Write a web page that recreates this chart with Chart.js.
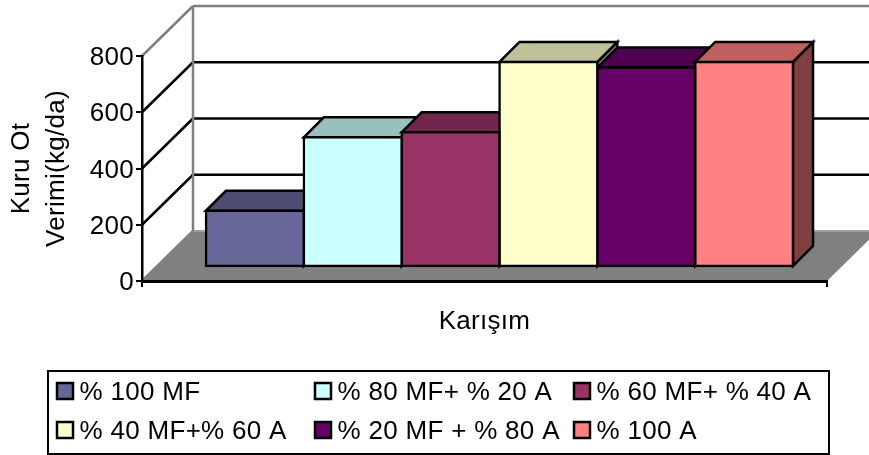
<!DOCTYPE html>
<html lang="en">
<head>
  <meta charset="UTF-8">
  <title>Kuru Ot Verimi</title>
  <style>
    body { margin: 0; background: white; }
    canvas { display: block; }
  </style>
</head>
<body>
  <canvas id="yieldChart" width="869" height="455"></canvas>

  <script src="https://cdn.jsdelivr.net/npm/chart.js"></script>
  <script>
    // Data
    const categories = [''];
    const seriesNames = ['% 100 MF', '% 80 MF+ % 20 A', '% 60 MF+ % 40 A', '% 40 MF+% 60 A', '% 20 MF + % 80 A', '% 100 A'];
    const seriesValues = [200, 461, 479, 729, 709, 729];
    const seriesColors = ['#666699', '#CCFFFF', '#993366', '#FFFFCC', '#660066', '#FF8080'];
    const yTicks = [0, 200, 400, 600, 800];

    const FONT = { family: '"Liberation Sans", Arial, sans-serif', size: 26 };
    const SPACING = '0.3px';
    const LINE = 2.5;

    // 3D box offsets, px
    const WALL_DX = 51, WALL_DY = -50;
    const BAR_DX = 15, BAR_DY = -14;
    const BAR_DEPTH = 20;

    function shade(hex, f) {
      const n = parseInt(hex.slice(1), 16);
      const c = [n >> 16, (n >> 8) & 255, n & 255].map(v => Math.round(v * f));
      return `rgb(${c[0]},${c[1]},${c[2]})`;
    }

    function poly(ctx, pts, fill, stroke, width) {
      ctx.beginPath();
      pts.forEach((p, i) => i ? ctx.lineTo(p[0], p[1]) : ctx.moveTo(p[0], p[1]));
      if (fill) {
        ctx.closePath();
        ctx.fillStyle = fill;
        ctx.fill();
      }
      if (stroke) {
        ctx.strokeStyle = stroke;
        ctx.lineWidth = width;
        ctx.stroke();
      }
    }

    // Floor, back wall and side wall, behind everything else
    const wallsPlugin = {
      id: 'walls',
      beforeDraw(chart) {
        const ctx = chart.ctx;
        const { left, right, top, bottom } = chart.chartArea;
        const yScale = chart.scales.y;
        ctx.letterSpacing = SPACING;
        ctx.save();
        ctx.lineCap = 'butt';
        poly(ctx, [[left, bottom], [left + WALL_DX, bottom + WALL_DY], [right + WALL_DX, bottom + WALL_DY], [right, bottom]], '#808080');
        poly(ctx, [[left + WALL_DX, bottom + WALL_DY], [right + WALL_DX, bottom + WALL_DY]], null, '#a0a0a0', 2);
        yScale.ticks.forEach(t => {
          const y = yScale.getPixelForValue(t.value);
          const edge = t.value === 0 || t.value === 800;
          const color = edge ? '#808080' : '#000';
          poly(ctx, [[left, y], [left + WALL_DX, y + WALL_DY]], null, color, LINE);
          if (t.value !== 0) {
            poly(ctx, [[left + WALL_DX, y + WALL_DY], [right + WALL_DX, y + WALL_DY]], null, color, LINE);
          }
        });
        poly(ctx, [[left + WALL_DX, top + WALL_DY], [left + WALL_DX, bottom + WALL_DY]], null, '#808080', LINE);
        ctx.restore();
      }
    };

    // Bar tops and sides go first, then the library paints the fronts shifted into the box
    const boxesPlugin = {
      id: 'boxes',
      beforeDatasetsDraw(chart) {
        const ctx = chart.ctx;
        ctx.save();
        ctx.translate(BAR_DX, BAR_DY);
        ctx.lineJoin = 'miter';
        chart.getSortedVisibleDatasetMetas().forEach(meta => {
          const bar = meta.data[0];
          const color = seriesColors[meta.index];
          const l = bar.x - bar.width / 2, r = bar.x + bar.width / 2;
          poly(ctx, [[r, bar.y], [r + BAR_DEPTH, bar.y - BAR_DEPTH], [r + BAR_DEPTH, bar.base - BAR_DEPTH], [r, bar.base]], shade(color, 0.5), '#000', LINE);
          poly(ctx, [[l, bar.y], [l + BAR_DEPTH, bar.y - BAR_DEPTH], [r + BAR_DEPTH, bar.y - BAR_DEPTH], [r, bar.y]], shade(color, 0.75), '#000', LINE);
        });
      },
      afterDatasetsDraw(chart) {
        chart.ctx.restore();
      }
    };

    // Boxed two-row key under the chart
    const keyPlugin = {
      id: 'key',
      afterDraw(chart) {
        const ctx = chart.ctx;
        const colX = [57, 315, 574];
        const rowY = [391, 430];
        ctx.save();
        ctx.strokeStyle = '#000';
        ctx.lineWidth = 2;
        ctx.strokeRect(48, 371, 781, 83);
        ctx.font = `${FONT.size}px ${FONT.family}`;
        ctx.textBaseline = 'middle';
        ctx.textAlign = 'left';
        seriesNames.forEach((name, i) => {
          const x = colX[i % 3], y = rowY[Math.floor(i / 3)];
          ctx.fillStyle = seriesColors[i];
          ctx.fillRect(x, y - 8, 16, 16);
          ctx.lineWidth = LINE;
          ctx.strokeRect(x, y - 8, 16, 16);
          ctx.fillStyle = '#000';
          ctx.fillText(name, x + 22.5, y + 2);
        });
        ctx.restore();
      }
    };

    new Chart(document.getElementById('yieldChart'), {
      type: 'bar',
      data: {
        labels: categories,
        datasets: seriesNames.map((name, i) => ({
          label: name,
          data: [seriesValues[i]],
          backgroundColor: seriesColors[i],
          borderColor: '#000',
          borderWidth: LINE,
          borderSkipped: false,
          inflateAmount: LINE / 2,
          clip: false
        }))
      },
      options: {
        responsive: false,
        animation: false,
        categoryPercentage: 0.857,
        barPercentage: 1,
        layout: { padding: { top: 56, right: 42, bottom: 0, left: 0 } },
        plugins: { legend: { display: false }, tooltip: { enabled: false } },
        scales: {
          x: {
            afterFit: s => { s.height = 174; },
            grid: { drawOnChartArea: false, color: '#000', lineWidth: 2, tickLength: 6 },
            border: { color: '#000', width: 3 },
            ticks: { display: false },
            title: {
              display: true,
              text: 'Karışım',
              color: '#000',
              font: FONT,
              padding: { top: 0, bottom: 118 }
            }
          },
          y: {
            min: 0,
            max: 800,
            afterFit: s => { s.width = 142; },
            afterBuildTicks: s => { s.ticks = yTicks.map(v => ({ value: v })); },
            grid: { drawOnChartArea: false, color: '#000', lineWidth: 2, tickLength: 6 },
            border: { color: '#000', width: 2.5 },
            ticks: { color: '#000', font: FONT, padding: 2, labelOffset: 2 },
            title: {
              display: true,
              text: ['Kuru Ot', 'Verimi(kg/da)'],
              color: '#000',
              font: { ...FONT, lineHeight: 1.35 },
              padding: { top: 4.5, bottom: 0 }
            }
          }
        }
      },
      plugins: [wallsPlugin, boxesPlugin, keyPlugin]
    });
  </script>
</body>
</html>
